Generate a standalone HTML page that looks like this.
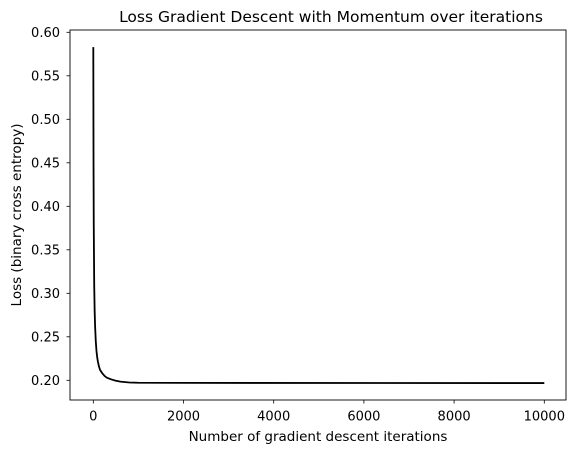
<!DOCTYPE html>
<html><head><meta charset="utf-8"><style>
body{margin:0;background:#fff;}
svg{display:block;font-family:"DejaVu Sans","Liberation Sans",sans-serif;}
</style></head><body>
<svg id="chart" width="576" height="453">
<rect width="576" height="453" fill="#fff"/>
<text x="331" y="22" text-anchor="middle" font-size="15.5">Loss Gradient Descent with Momentum over iterations</text>
<g id="plot"></g>
<rect x="70" y="30" width="496" height="370" fill="none" stroke="#000" stroke-width="0.9"/>
<text x="318" y="441" text-anchor="middle" font-size="13.5">Number of gradient descent iterations</text>
<text transform="translate(21,215) rotate(-90)" text-anchor="middle" font-size="13.5">Loss (binary cross entropy)</text>
</svg>
<script>
const iterations=[0,5,10,20,30,40,55,70,85,100,125,150,200,250,300,400,500,600,800,1000,2000,10000];
const losses=[0.583,0.45,0.38,0.31,0.28,0.262,0.245,0.234,0.227,0.222,0.216,0.212,0.208,0.205,0.203,0.201,0.1995,0.1985,0.1975,0.1972,0.197,0.1968];
const xTicks=[0,2000,4000,6000,8000,10000];
const yTicks=[0.20,0.25,0.30,0.35,0.40,0.45,0.50,0.55,0.60];
const NS="http://www.w3.org/2000/svg";
const g=document.getElementById('plot');
function xs(v){return 93.3+v*(544.3-93.3)/10000;}
function ys(v){return 380.3-(v-0.2)*(380.3-32.3)/0.4;}
function mk(t,a){const e=document.createElementNS(NS,t);for(const k in a)e.setAttribute(k,a[k]);g.appendChild(e);return e;}
xTicks.forEach(t=>{
 const l=mk('line',{x1:xs(t),x2:xs(t),y1:400,y2:403.5,stroke:'#000','stroke-width':0.8});
 
 
 const s=mk('text',{x:xs(t),y:420.5,'text-anchor':'middle','font-size':13});
 s.textContent=t;
 
 
});
yTicks.forEach(t=>{
 const l=mk('line',{x1:66.5,x2:70,y1:ys(t),y2:ys(t),stroke:'#000','stroke-width':0.8});
 
 
 const s=mk('text',{x:60,y:ys(t)+4.8,'text-anchor':'end','font-size':13});
 s.textContent=t.toFixed(2);
 
 
});
const d=iterations.map((v,i)=>(i?'L':'M')+xs(v).toFixed(2)+','+ys(losses[i]).toFixed(2)).join(' ');
const p=mk('path',{d:d,fill:'none',stroke:'#000','stroke-width':1.8,'stroke-linejoin':'round'});


</script>
</body></html>
